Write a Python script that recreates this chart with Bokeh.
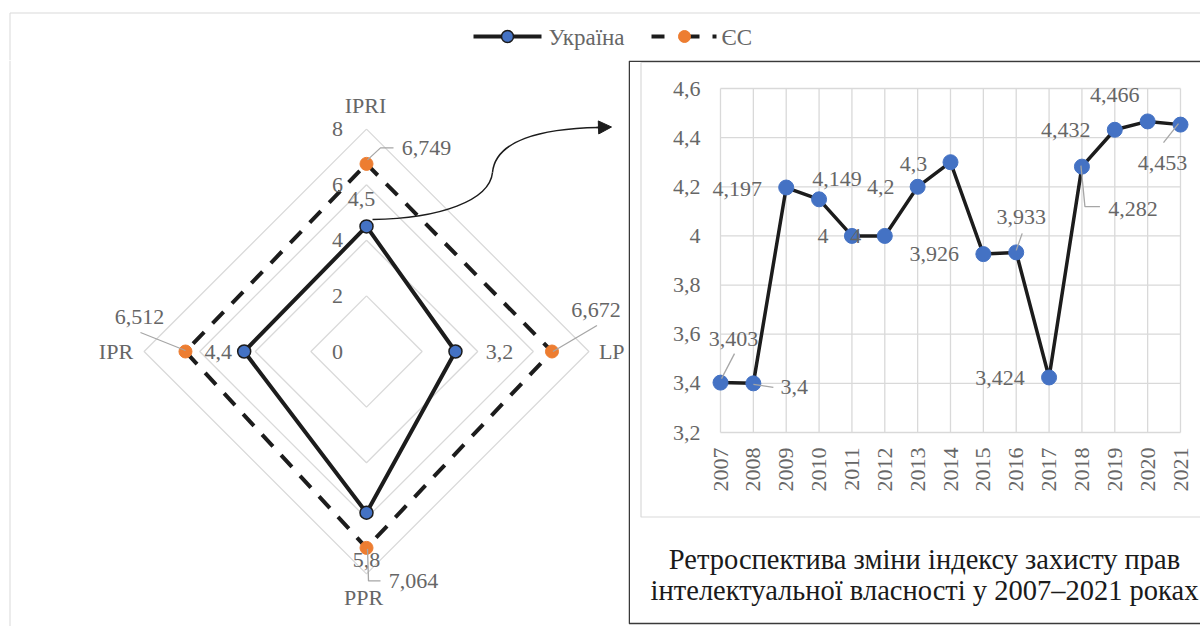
import math
from bokeh.plotting import figure
from bokeh.layouts import column, row
from bokeh.models import Range1d, Arrow, NormalHead
from bokeh.core.properties import value
from bokeh.embed import file_html
from bokeh.resources import INLINE

# ---------------- data ----------------
radar_axes = ["IPRI", "LP", "PPR", "IPR"]
ukraine_scores = [4.5, 3.2, 5.8, 4.4]
eu_scores = [6.749, 6.672, 7.064, 6.512]
radar_rings = [0, 2, 4, 6, 8]

years = list(range(2007, 2022))
ipr_index = [3.403, 3.4, 4.197, 4.149, 4.0, 4.0, 4.2, 4.3, 3.926, 3.933,
             3.424, 4.282, 4.432, 4.466, 4.453]
y_ticks = [3.2, 3.4, 3.6, 3.8, 4.0, 4.2, 4.4, 4.6]

legend_labels = ["Україна", "ЄС"]
caption_lines = ["Ретроспектива зміни індексу захисту прав",
                 "інтелектуальної власності у 2007–2021 роках"]

# ---------------- styles ----------------
FONT = value("Liberation Serif")
TXT = "#666666"
GRID = "#d9d9d9"
LEADER = "#a6a6a6"
BLUE = "#4472C4"
ORANGE = "#ED7D31"
DARK = "#1c1c1c"
FS = "22px"
W, H = 1200, 626
TOP_H = 60
SPLIT = 628


def fmt(v):
    return f"{v:g}".replace(".", ",")


def canvas(width, height, xr, yr):
    p = figure(width=width, height=height, x_range=xr, y_range=yr,
               output_backend="svg", toolbar_location=None, min_border=0,
               x_axis_location=None, y_axis_location=None)
    p.grid.visible = False
    p.outline_line_color = None
    p.background_fill_color = "white"
    p.border_fill_color = "white"
    return p


def txt(p, xs, ys, texts, align="center", baseline="middle", size=FS, color=TXT, angle=0):
    p.text(xs, ys, text=texts, text_align=align, text_baseline=baseline, angle=angle,
           text_font=FONT, text_font_size=size, text_color=color)


# ================= top strip (legend + page frame) =================
top = canvas(W, TOP_H, Range1d(0, W), Range1d(TOP_H, 0))
top.line([9.5, 9.5, W], [TOP_H, 12.5, 12.5], line_color=GRID, line_width=1)
# legend: Україна
top.line([473, 541], [36, 36], line_color=DARK, line_width=4)
top.scatter([507], [36], size=12, fill_color=BLUE, line_color=DARK, line_width=1.5)
txt(top, [548], [37], [legend_labels[0]], align="left", size="23px")
# legend: ЄС
top.multi_line([[651, 664], [689, 699], [712, 716]], [[36, 36]] * 3,
               line_color=DARK, line_width=4)
top.scatter([684], [36], size=12, fill_color=ORANGE, line_color=ORANGE)
txt(top, [721], [37], [legend_labels[1]], align="left", size="23px")

# ================= radar =================
PX = 27.8           # px per radar unit
CX, CY = 366, 351   # page position of the radar centre


def rx(px):
    return (px - CX) / PX


def ry(py):
    return (CY - py) / PX


radar = canvas(SPLIT, H - TOP_H, Range1d(rx(0), rx(SPLIT)), Range1d(ry(H), ry(TOP_H)))
# page frame (left edge)
radar.line([rx(9.5), rx(9.5)], [ry(TOP_H), ry(H)], line_color=GRID, line_width=1)

angles = [math.pi / 2, 0.0, -math.pi / 2, math.pi]
dirs = [(round(math.cos(a), 12), round(math.sin(a), 12)) for a in angles]


def polar(vals):
    xs = [v * d[0] for v, d in zip(vals, dirs)]
    ys = [v * d[1] for v, d in zip(vals, dirs)]
    return xs, ys


ring_xs, ring_ys = [], []
for v in radar_rings[1:]:
    xs, ys = polar([v] * 4)
    ring_xs.append(xs + [xs[0]])
    ring_ys.append(ys + [ys[0]])
radar.multi_line(ring_xs, ring_ys, line_color=GRID, line_width=1.3)

ux, uy = polar(ukraine_scores)
ex, ey = polar(eu_scores)
radar.line(ex + [ex[0]], ey + [ey[0]], line_color=DARK, line_width=4, line_dash="16 12")
radar.line(ux + [ux[0]], uy + [uy[0]], line_color=DARK, line_width=4)
radar.scatter(ex, ey, size=13, fill_color=ORANGE, line_color=ORANGE)
radar.scatter(ux, uy, size=13, fill_color=BLUE, line_color=DARK, line_width=1.5)

# ring value labels (centred 29 px left of the IPRI axis)
txt(radar, [-29 / PX] * len(radar_rings), radar_rings, [fmt(v) for v in radar_rings])

# axis names: offsets (px, y up) from the ring-8 corner and alignment
axis_off = [(-1, 24, "center"), (10, 0, "left"), (-3, -24, "center"), (-11, 0, "right")]
rmax = radar_rings[-1]
for name, d, (dx, dy, al) in zip(radar_axes, dirs, axis_off):
    txt(radar, [rmax * d[0] + dx / PX], [rmax * d[1] + dy / PX], [name], align=al)

# data labels (px offsets from point, y up)
ua_off = [(-5, 27), (44, 0), (0, -47), (-26, 0)]
eu_off = [(60, 16), (44, 42), (47, -33), (-46, 35)]
for xs, ys, vals, offs in ((ux, uy, ukraine_scores, ua_off), (ex, ey, eu_scores, eu_off)):
    txt(radar, [x + o[0] / PX for x, o in zip(xs, offs)],
        [y + o[1] / PX for y, o in zip(ys, offs)], [fmt(v) for v in vals])

# leader lines for EU labels (px offsets from point, y up)
eu_leaders = [[(1, 4), (14, 16), (27, 16)],
              [(1, 0), (45, 26)],
              [(1, -1), (2, -33), (14, -33)],
              [(-45, 19), (0, 1)]]
radar.multi_line([[x + p[0] / PX for p in lead] for x, lead in zip(ex, eu_leaders)],
                 [[y + p[1] / PX for p in lead] for y, lead in zip(ey, eu_leaders)],
                 line_color=LEADER, line_width=1.3)

# connector arrow from the Ukrainian IPRI point to the line chart
radar.bezier(x0=[rx(372), rx(492)], y0=[ry(219), ry(172)],
             x1=[rx(492), rx(598)], y1=[ry(172), ry(127)],
             cx0=[rx(440), rx(495)], cy0=[ry(218), ry(140)],
             cx1=[rx(489), rx(540)], cy1=[ry(200), ry(128)],
             line_color=DARK, line_width=1.5)
radar.add_layout(Arrow(end=NormalHead(size=13, fill_color=DARK, line_color=DARK),
                       x_start=rx(596), y_start=ry(127), x_end=rx(611), y_end=ry(126.5),
                       line_color=DARK, line_width=1.5))

# ================= line chart =================
PXY = 460 / 14      # px per year     (2007 at x=720, 2021 at x=1180)
PXV = 344 / 1.4     # px per unit     (4.6 at y=88, 3.2 at y=432)


def lx(px):
    return years[0] + (px - 720) / PXY


def ly(py):
    return y_ticks[0] + (432 - py) / PXV


lf = canvas(W - SPLIT, H - TOP_H, Range1d(lx(SPLIT), lx(W)), Range1d(ly(H), ly(TOP_H)))

# black frame and grey chart-area border
lf.line([lx(1201), lx(640.5), lx(640.5), lx(1201)], [ly(62), ly(62), ly(516.5), ly(516.5)],
        line_color=GRID, line_width=1.2)
lf.line([lx(1201), lx(628.75), lx(628.75), lx(1201)],
        [ly(60.75), ly(60.75), ly(623), ly(623)], line_color="#3a3a3a", line_width=1.5)

# plot-area grid
lf.multi_line([[yr, yr] for yr in years], [[y_ticks[0], y_ticks[-1]]] * len(years),
              line_color=GRID, line_width=1.3)
lf.multi_line([[years[0], years[-1]]] * len(y_ticks), [[t, t] for t in y_ticks],
              line_color=GRID, line_width=1.3)

# tick labels
txt(lf, [years[0] - 20 / PXY] * len(y_ticks), y_ticks, [fmt(t) for t in y_ticks], align="right")
txt(lf, years, [y_ticks[0] - 15 / PXV] * len(years), [str(y) for y in years],
    align="right", angle=math.pi / 2)

# series
lf.line(years, ipr_index, line_color=DARK, line_width=3.5)
lf.scatter(years, ipr_index, size=15, fill_color=BLUE, line_color=BLUE)

# leader lines (px offsets right, down from point)
leaders = {0: [(1, -4), (14, -29)], 1: [(0, 1), (20, 4)], 9: [(0, -2), (6, -19)],
           11: [(-1, -1), (3, 40), (18, 40)], 14: [(-2, -1), (-17, 18)]}
lxs, lys = [], []
for i, pts in leaders.items():
    lxs.append([years[i] + p[0] / PXY for p in pts])
    lys.append([ipr_index[i] - p[1] / PXV for p in pts])
lf.multi_line(lxs, lys, line_color=LEADER, line_width=1.3)

# data labels: px offsets (right, down) from each point
lab_off = [(13, -44), (41, 4), (-49, 1), (18, -20), (-29, 0), (-29, 0), (-37, 0),
           (-37, 2), (-49, 0), (5, -35), (-49, 1), (51, 42), (-49, 0), (-33, -26), (-18, 38)]
txt(lf, [yr + o[0] / PXY for yr, o in zip(years, lab_off)],
    [v - o[1] / PXV for v, o in zip(ipr_index, lab_off)], [fmt(v) for v in ipr_index])

# caption
txt(lf, [lx(924)] * 2, [ly(559), ly(590)], caption_lines, baseline="alphabetic",
    size="28.5px", color="#1a1a1a")

layout = column(top, row(radar, lf))
open("out.html", "w").write(file_html(layout, INLINE))
